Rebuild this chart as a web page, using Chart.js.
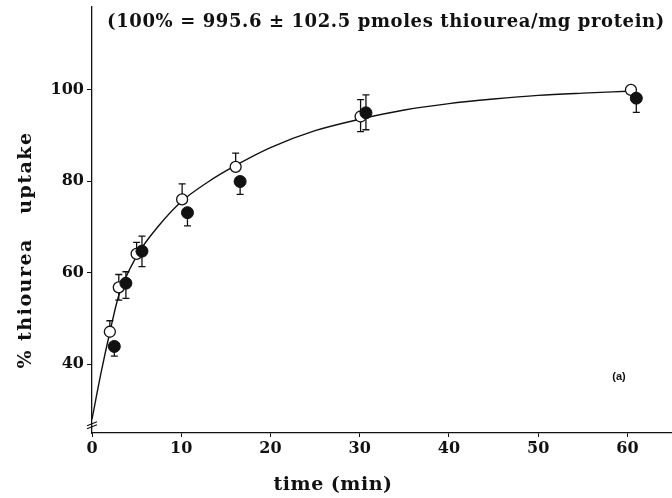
<!DOCTYPE html>
<html>
<head>
<meta charset="utf-8">
<script src="https://cdn.jsdelivr.net/npm/chart.js@4/dist/chart.umd.min.js"></script>
<style>
  html, body { margin: 0; padding: 0; background: #fff; }
  #wrap { width: 672px; height: 498px; position: relative; }
</style>
</head>
<body>
<div id="wrap"><canvas id="chart"></canvas></div>
<script>
// values
const xTicks = [0, 10, 20, 30, 40, 50, 60]
const yTicks = [40, 60, 80, 100]

const openTime = [2, 3, 5, 10.1, 16.1, 30.1, 60.4]
const openValue = [47.1, 56.8, 64.1, 76.0, 83.1, 94.1, 99.9]
const openErrUp = [2.4, 2.8, 2.5, 3.4, 3.0, 3.7, 0]
const openErrDown = [0, 2.8, 0, 0, 0, 3.3, 0]

const filledTime = [2.5, 3.8, 5.6, 10.7, 16.6, 30.7, 61.0]
const filledValue = [43.9, 57.7, 64.7, 73.1, 79.9, 94.9, 98.1]
const filledErrUp = [0, 2.5, 3.3, 0, 0, 3.9, 0]
const filledErrDown = [2.1, 3.3, 3.4, 2.9, 2.8, 3.7, 3.1]

// fitted curve, read at sample times
const curveTime = [0, 1, 2, 3, 5, 7.5, 10, 13, 16, 20, 25, 30, 35, 40, 45, 50, 55, 60]
const curveValue = [28, 38, 47, 55, 63.6, 70.3, 75.5, 79.8, 83.3, 87.3, 91, 93.5, 95.5, 96.9, 97.9, 98.7, 99.2, 99.6]

const serif = "'DejaVu Serif', serif"

function pts(xs, ys) {
  return xs.map((x, i) => ({ x: x, y: ys[i] }))
}

const errorBars = {
  id: 'errorBars',
  beforeDatasetsDraw(chart) {
    const ctx = chart.ctx
    const xs = chart.scales.x
    const ys = chart.scales.y
    const sets = [
      [openTime, openValue, openErrUp, openErrDown],
      [filledTime, filledValue, filledErrUp, filledErrDown]
    ]
    ctx.save()
    ctx.strokeStyle = '#111'
    ctx.lineWidth = 1.3
    sets.forEach(([tx, vy, up, down]) => {
      tx.forEach((t, i) => {
        const px = xs.getPixelForValue(t)
        const py = ys.getPixelForValue(vy[i])
        ;[[up[i], 1], [down[i], -1]].forEach(([e, s]) => {
          if (!e) return
          const ey = ys.getPixelForValue(vy[i] + s * e)
          ctx.beginPath()
          ctx.moveTo(px, py)
          ctx.lineTo(px, ey)
          ctx.moveTo(px - 3.5, ey)
          ctx.lineTo(px + 3.5, ey)
          ctx.stroke()
        })
      })
    })
    ctx.restore()
  }
}

const labels = {
  id: 'labels',
  afterDraw(chart) {
    const ctx = chart.ctx
    const ys = chart.scales.y
    const xs = chart.scales.x
    ctx.save()
    ctx.fillStyle = '#111'
    ctx.textAlign = 'center'
    ctx.textBaseline = 'middle'

    ctx.font = 'bold 18px ' + serif
    ctx.letterSpacing = '0.6px'
    ctx.fillText('(100% = 995.6 ± 102.5 pmoles thiourea/mg protein)', 386, 22)

    ctx.font = 'bold 19px ' + serif
    ctx.letterSpacing = '0.5px'
    ctx.fillText('time (min)', 333, 485)

    ctx.save()
    ctx.translate(26, 250)
    ctx.rotate(-Math.PI / 2)
    ctx.letterSpacing = '1.5px'
    ctx.fillText('% thiourea   uptake', 0, 0)
    ctx.restore()

    ctx.letterSpacing = '0px'
    ctx.font = "bold 11px 'Liberation Sans', sans-serif"
    ctx.fillText('(a)', 619, 377)

    // axis break marks
    const bx = xs.getPixelForValue(0)
    const by = ys.getPixelForValue(26.8)
    ctx.strokeStyle = '#111'
    ctx.lineWidth = 1.1
    ctx.beginPath()
    ctx.moveTo(bx - 5, by + 1)
    ctx.lineTo(bx + 5, by - 3)
    ctx.moveTo(bx - 5, by + 4)
    ctx.lineTo(bx + 5, by)
    ctx.stroke()
    ctx.restore()
  }
}

new Chart(document.getElementById('chart'), {
  type: 'scatter',
  data: {
    datasets: [
      {
        data: pts(filledTime, filledValue),
        pointRadius: 6,
        pointBackgroundColor: '#111',
        pointBorderColor: '#111',
        pointBorderWidth: 1,
        order: 0
      },
      {
        data: pts(openTime, openValue),
        pointRadius: 5.5,
        pointBackgroundColor: '#fff',
        pointBorderColor: '#111',
        pointBorderWidth: 1.3,
        order: 1
      },
      {
        data: pts(curveTime, curveValue),
        showLine: true,
        pointRadius: 0,
        borderColor: '#111',
        borderWidth: 1.4,
        cubicInterpolationMode: 'monotone',
        order: 2
      }
    ]
  },
  options: {
    responsive: true,
    maintainAspectRatio: false,
    animation: false,
    events: [],
    layout: { autoPadding: false, padding: { top: 7, right: 0, left: 0, bottom: 0 } },
    plugins: {
      legend: { display: false },
      tooltip: { enabled: false }
    },
    scales: {
      x: {
        type: 'linear',
        min: 0,
        max: 65,
        afterBuildTicks: s => { s.ticks = xTicks.map(v => ({ value: v })) },
        afterFit: s => { s.height = 65; s.paddingLeft = 0; s.paddingRight = 0 },
        border: { display: true, color: '#111', width: 1.3 },
        grid: { drawOnChartArea: false, tickLength: 4, color: '#111', tickWidth: 1 },
        ticks: { color: '#111', padding: 2, font: { family: serif, weight: 'bold', size: 16 } }
      },
      y: {
        type: 'linear',
        min: 25,
        max: 118,
        afterBuildTicks: s => { s.ticks = yTicks.map(v => ({ value: v })) },
        afterFit: s => { s.width = 92; s.paddingTop = 0; s.paddingBottom = 0 },
        border: { display: true, color: '#111', width: 1.3 },
        grid: { drawOnChartArea: false, tickLength: 5, color: '#111', tickWidth: 1 },
        ticks: { color: '#111', padding: 3, font: { family: serif, weight: 'bold', size: 16 } }
      }
    }
  },
  plugins: [errorBars, labels]
})
</script>
</body>
</html>
